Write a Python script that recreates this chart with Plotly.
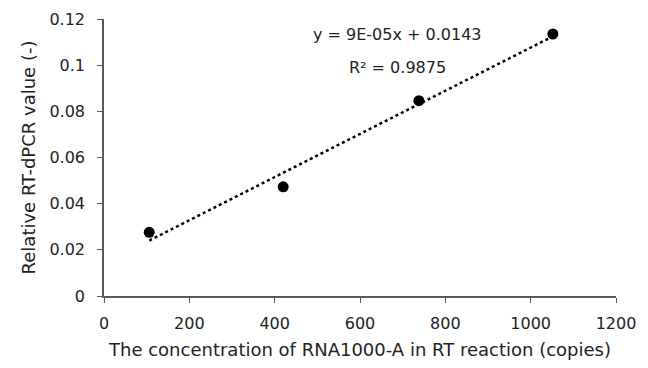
import numpy as np
import plotly.graph_objects as go

copies = [106, 420, 738, 1052]
rel_value = [0.0276, 0.0473, 0.0846, 0.1135]
x_ticks = [0, 200, 400, 600, 800, 1000, 1200]
y_ticks = [0, 0.02, 0.04, 0.06, 0.08, 0.1, 0.12]
y_tick_labels = ["0", "0.02", "0.04", "0.06", "0.08", "0.1", "0.12"]
eq_text = "y = 9E-05x + 0.0143"
r2_text = "R² = 0.9875"

slope, intercept = np.polyfit(copies, rel_value, 1)
trend_x = [min(copies), max(copies)]
trend_y = [slope * v + intercept for v in trend_x]

FONT = "DejaVu Sans"
TXT = "#222222"
fig = go.Figure()
fig.add_trace(go.Scatter(x=trend_x, y=trend_y, mode="lines",
                         line=dict(color="black", width=2.5, dash="dot"),
                         showlegend=False, hoverinfo="skip"))
fig.add_trace(go.Scatter(x=copies, y=rel_value, mode="markers",
                         marker=dict(color="black", size=11),
                         showlegend=False))

fig.add_annotation(x=689, y=0.1131, xref="x", yref="y", text=eq_text,
                   showarrow=False, font=dict(family=FONT, size=16, color=TXT))
fig.add_annotation(x=687, y=0.0988, xref="x", yref="y", text=r2_text,
                   showarrow=False, font=dict(family=FONT, size=16, color=TXT))

axis_common = dict(showgrid=False, zeroline=False, showline=True,
                   linecolor="#595959", linewidth=1.5, ticks="outside",
                   ticklen=5, tickcolor="#595959", automargin=False,
                   tickfont=dict(family=FONT, size=16, color=TXT))
fig.update_xaxes(range=[0, 1200], tickvals=x_ticks, ticklabelstandoff=7,
                 title=dict(text="The concentration of RNA1000-A in RT reaction (copies)",
                            font=dict(family=FONT, size=18, color=TXT), standoff=19),
                 **axis_common)
fig.update_yaxes(range=[0, 0.12], tickvals=y_ticks, ticktext=y_tick_labels,
                 ticklabelstandoff=9,
                 title=dict(text="Relative RT-dPCR value (-)",
                            font=dict(family=FONT, size=18, color=TXT), standoff=9),
                 **axis_common)
fig.update_layout(width=632, height=352, margin=dict(l=96, r=24, t=11, b=64),
                  plot_bgcolor="white", paper_bgcolor="white")
fig.write_html("out.html")
